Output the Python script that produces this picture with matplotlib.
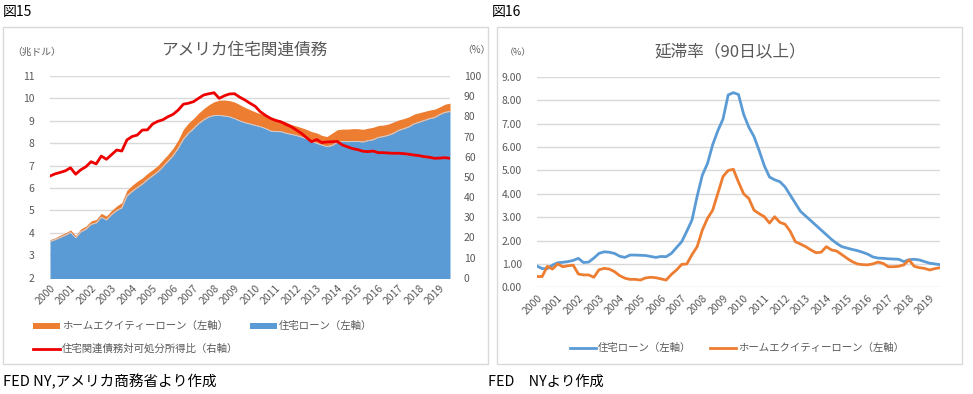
import matplotlib
matplotlib.use("Agg")
import matplotlib.pyplot as plt
from matplotlib.patches import Rectangle
from matplotlib.lines import Line2D

plt.rcParams['font.family'] = ['Noto Sans CJK JP', 'DejaVu Sans']

# 四半期データ 2000Q1 - 2019Q3
years = [str(y) for y in range(2000, 2020)]

# 図15: 住宅ローン / ホームエクイティーローン (兆ドル), 債務対可処分所得比 (%)
mortgage = [3.62, 3.70, 3.80, 3.90, 4.02, 3.78, 4.05, 4.17, 4.38, 4.45,
            4.70, 4.58, 4.82, 5.00, 5.12, 5.65, 5.85, 6.02, 6.18, 6.38,
            6.55, 6.72, 6.95, 7.20, 7.45, 7.78, 8.18, 8.45, 8.66, 8.88,
            9.05, 9.18, 9.24, 9.24, 9.22, 9.18, 9.10, 9.00, 8.92, 8.86,
            8.80, 8.74, 8.66, 8.55, 8.52, 8.52, 8.45, 8.40, 8.35, 8.28,
            8.20, 8.08, 8.00, 7.92, 7.85, 7.90, 8.04, 8.08, 8.07, 8.08,
            8.08, 8.06, 8.12, 8.16, 8.26, 8.30, 8.36, 8.45, 8.58, 8.65,
            8.74, 8.87, 8.94, 9.02, 9.10, 9.15, 9.28, 9.38, 9.42]
home_equity = [0.08, 0.08, 0.10, 0.10, 0.11, 0.10, 0.13, 0.13, 0.15, 0.15,
               0.17, 0.17, 0.18, 0.20, 0.23, 0.25, 0.27, 0.28, 0.27, 0.27,
               0.27, 0.28, 0.30, 0.30, 0.33, 0.37, 0.44, 0.45, 0.45, 0.47,
               0.50, 0.54, 0.61, 0.68, 0.71, 0.72, 0.74, 0.72, 0.68, 0.64,
               0.60, 0.58, 0.59, 0.60, 0.56, 0.50, 0.50, 0.44, 0.42, 0.42,
               0.42, 0.44, 0.46, 0.43, 0.45, 0.55, 0.56, 0.55, 0.56, 0.57,
               0.57, 0.56, 0.55, 0.55, 0.53, 0.51, 0.50, 0.50, 0.46, 0.45,
               0.44, 0.43, 0.42, 0.40, 0.38, 0.37, 0.34, 0.36, 0.37]
debt_ratio = [50.4, 51.5, 52.2, 53.0, 54.5, 51.3, 53.5, 55.0, 57.5, 56.4,
              60.3, 58.7, 61.0, 63.3, 62.8, 68.3, 70.0, 70.7, 73.2, 73.3,
              76.2, 77.5, 78.3, 79.8, 81.0, 83.1, 86.0, 86.5, 87.3, 89.0,
              90.6, 91.2, 91.7, 88.9, 90.2, 91.1, 91.2, 89.5, 88.1, 86.5,
              85.0, 82.3, 80.5, 79.0, 78.0, 77.3, 76.0, 74.9, 73.3, 71.6,
              69.5, 67.4, 68.5, 67.0, 67.3, 67.4, 67.6, 65.8, 64.9, 64.0,
              63.5, 62.7, 62.5, 62.8, 62.0, 62.0, 61.8, 61.7, 61.7, 61.5,
              61.2, 60.8, 60.5, 60.0, 59.7, 59.2, 59.3, 59.5, 59.2]

# 図16: 延滞率 (90日以上, %)
delinq_mortgage = [0.91, 0.80, 0.80, 0.95, 1.05, 1.07, 1.10, 1.15, 1.24, 1.06,
                   1.08, 1.25, 1.45, 1.52, 1.50, 1.45, 1.33, 1.28, 1.38, 1.38,
                   1.37, 1.36, 1.32, 1.28, 1.32, 1.31, 1.45, 1.70, 1.95, 2.40,
                   2.88, 3.90, 4.80, 5.30, 6.10, 6.70, 7.20, 8.23, 8.33, 8.25,
                   7.40, 6.85, 6.45, 5.85, 5.20, 4.72, 4.60, 4.52, 4.30, 3.95,
                   3.60, 3.25, 3.05, 2.85, 2.65, 2.45, 2.25, 2.05, 1.88, 1.74,
                   1.68, 1.62, 1.57, 1.50, 1.42, 1.30, 1.25, 1.24, 1.22, 1.21,
                   1.20, 1.10, 1.18, 1.20, 1.17, 1.10, 1.03, 1.00, 0.97]
delinq_he = [0.46, 0.46, 0.90, 0.78, 1.00, 0.88, 0.92, 0.95, 0.57, 0.53,
             0.53, 0.43, 0.75, 0.81, 0.78, 0.67, 0.50, 0.39, 0.34, 0.34,
             0.31, 0.40, 0.43, 0.41, 0.36, 0.31, 0.55, 0.74, 0.98, 1.00,
             1.40, 1.74, 2.45, 2.95, 3.30, 4.02, 4.74, 5.00, 5.05, 4.50,
             4.00, 3.80, 3.30, 3.15, 3.02, 2.75, 3.02, 2.78, 2.70, 2.40,
             1.95, 1.85, 1.74, 1.60, 1.48, 1.50, 1.74, 1.60, 1.55, 1.40,
             1.24, 1.10, 1.00, 0.97, 0.96, 1.00, 1.08, 1.02, 0.88, 0.88,
             0.90, 0.96, 1.17, 0.90, 0.84, 0.81, 0.74, 0.80, 0.84]

BLUE = '#5b9bd5'
ORANGE = '#ed7d31'
RED = '#ee0000'
GRID = '#d9d9d9'
GRAY = '#595959'

W, H = 973, 394


def fx(x):
    return x / W


def fy(y):
    return 1 - y / H


fig = plt.figure(figsize=(W / 100, H / 100), dpi=100)

# パネル枠
for x0, x1 in [(3, 488), (497, 962)]:
    fig.add_artist(Rectangle((fx(x0), fy(364)), fx(x1 - x0), (364 - 27) / H,
                             transform=fig.transFigure, fill=False,
                             edgecolor=GRID, lw=1))

x = list(range(len(mortgage)))
total = [m + h for m, h in zip(mortgage, home_equity)]
tick_pos = list(range(0, len(mortgage), 4))

# ---- 図15 ----
ax1 = fig.add_axes([fx(50), fy(277.7), fx(400), (277.7 - 76) / H])
ax1.fill_between(x, 0, mortgage, color=BLUE, lw=0, zorder=2)
ax1.fill_between(x, mortgage, total, color=ORANGE, lw=0, zorder=2)
ax1.plot(x, mortgage, color='#c9d9ea', lw=0.6, zorder=3)
ax1.set_xlim(0, len(x) - 1)
ax1.set_ylim(2, 11)
ax1.set_yticks(range(2, 12))
ax1.grid(axis='y', color=GRID, lw=1, zorder=0)
ax1.set_xticks(tick_pos)
ax1.set_xticklabels(years, rotation=45, ha='right', va='top',
                    rotation_mode='anchor', fontsize=7.5, color=GRAY)
ax1.tick_params(axis='y', labelsize=7.5, colors=GRAY, length=0, pad=11)
ax1.tick_params(axis='x', length=0, pad=4)
for s in ax1.spines.values():
    s.set_visible(False)

ax1b = ax1.twinx()
ax1b.plot(x, debt_ratio, color=RED, lw=2, zorder=4)
ax1b.set_ylim(0, 100)
ax1b.set_yticks(range(0, 101, 10))
ax1b.tick_params(axis='y', labelsize=7.5, colors=GRAY, length=0, pad=10)
for s in ax1b.spines.values():
    s.set_visible(False)

fig.text(fx(245), fy(50), 'アメリカ住宅関連債務', ha='center', va='center',
         fontsize=12, color=GRAY)
fig.text(fx(12), fy(52), '（兆ドル）', ha='left', va='center', fontsize=7,
         color=GRAY)
fig.text(fx(462), fy(50), '（%）', ha='left', va='center', fontsize=7,
         color=GRAY)

# 凡例
fig.add_artist(Rectangle((fx(33), fy(329)), fx(27), 6 / H,
                         transform=fig.transFigure, color=ORANGE, lw=0))
fig.text(fx(62), fy(326), 'ホームエクイティーローン（左軸）', ha='left',
         va='center', fontsize=7.5, color=GRAY)
fig.add_artist(Rectangle((fx(250), fy(329)), fx(27), 6 / H,
                         transform=fig.transFigure, color=BLUE, lw=0))
fig.text(fx(279), fy(326), '住宅ローン（左軸）', ha='left', va='center',
         fontsize=7.5, color=GRAY)
fig.add_artist(Line2D([fx(33), fx(60)], [fy(349), fy(349)],
                      transform=fig.transFigure, color=RED, lw=2))
fig.text(fx(62), fy(349), '住宅関連債務対可処分所得比（右軸）', ha='left',
         va='center', fontsize=7.5, color=GRAY)

# ---- 図16 ----
ax2 = fig.add_axes([fx(537), fy(287.3), fx(403), (287.3 - 77) / H])
ax2.plot(x, delinq_mortgage, color=BLUE, lw=2, zorder=3)
ax2.plot(x, delinq_he, color=ORANGE, lw=2, zorder=3)
ax2.set_xlim(0, len(x) - 1)
ax2.set_ylim(0, 9)
ax2.set_yticks(range(0, 10))
ax2.set_yticklabels([f'{v:.2f}' for v in range(0, 10)])
ax2.grid(axis='y', color=GRID, lw=1, zorder=0)
ax2.set_xticks(tick_pos)
ax2.set_xticklabels(years, rotation=45, ha='right', va='top',
                    rotation_mode='anchor', fontsize=7.5, color=GRAY)
ax2.tick_params(axis='y', labelsize=7.5, colors=GRAY, length=0, pad=11)
ax2.tick_params(axis='x', length=0, pad=4)
for s in ax2.spines.values():
    s.set_visible(False)

fig.text(fx(730), fy(52), '延滞率（90日以上）', ha='center', va='center',
         fontsize=12, color=GRAY)
fig.text(fx(505), fy(53), '（%）', ha='left', va='center', fontsize=6.5,
         color=GRAY)

fig.add_artist(Line2D([fx(570), fx(596)], [fy(348), fy(348)],
                      transform=fig.transFigure, color=BLUE, lw=2))
fig.text(fx(598), fy(348), '住宅ローン（左軸）', ha='left', va='center',
         fontsize=7.5, color=GRAY)
fig.add_artist(Line2D([fx(710), fx(736)], [fy(348), fy(348)],
                      transform=fig.transFigure, color=ORANGE, lw=2))
fig.text(fx(738), fy(348), 'ホームエクイティーローン（左軸）', ha='left',
         va='center', fontsize=7.5, color=GRAY)

# 図番号・出所
fig.text(fx(3), fy(12), '図15', ha='left', va='center', fontsize=10,
         color='black')
fig.text(fx(492), fy(12), '図16', ha='left', va='center', fontsize=10,
         color='black')
fig.text(fx(3), fy(382), 'FED NY,アメリカ商務省より作成', ha='left',
         va='center', fontsize=10.5, color='black')
fig.text(fx(488), fy(382), 'FED\u3000NYより作成', ha='left', va='center',
         fontsize=10.3, color='black')

fig.savefig('out.png', dpi=100)
